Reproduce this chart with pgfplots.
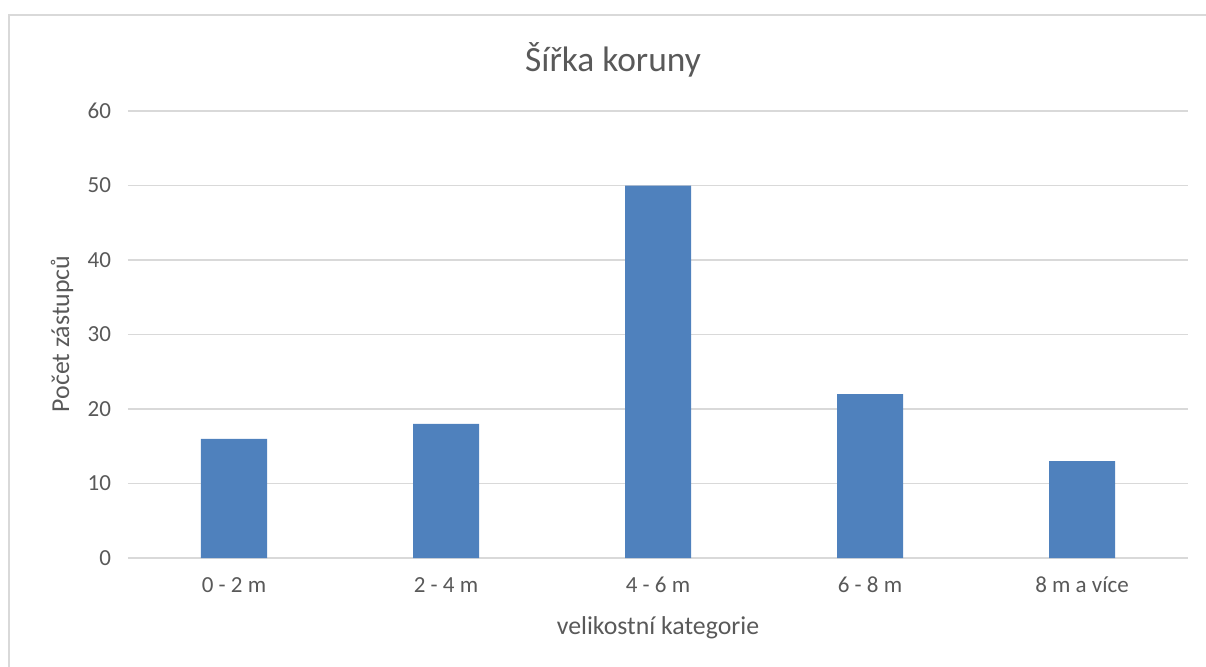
\documentclass[border=0pt]{standalone}
\usepackage{pgfplots}
\pgfplotsset{compat=1.18}
\usepackage{fontspec}
\setmainfont{Carlito}
\definecolor{barblue}{HTML}{4F81BD}
\definecolor{gridgray}{HTML}{D9D9D9}
\definecolor{txtgray}{HTML}{595959}
\begin{document}
\begin{tikzpicture}
\useasboundingbox (0,0) rectangle (603pt,-333pt);
\clip (0,0) rectangle (603pt,-333pt);
\draw[gridgray, line width=1pt] (4.5pt,-7.5pt) rectangle (620pt,-350pt);
\begin{axis}[
  at={(64pt,-279pt)}, anchor=south west,
  scale only axis, width=530pt, height=223.5pt,
  xmin=-0.5, xmax=4.5, ymin=0, ymax=60,
  ytick={0,10,...,60},
  xtick={0,1,2,3,4},
  xticklabels={0 - 2 m, 2 - 4 m, 4 - 6 m, 6 - 8 m, 8 m a více},
  ymajorgrids, grid style={gridgray, line width=0.6pt},
  axis line style={draw=none},
  major tick length=0pt,
  tick label style={font=\fontsize{11.5}{13}\selectfont, text=txtgray},
  /pgf/number format/assume math mode=true,
  yticklabel style={xshift=-5pt},
  xticklabel style={yshift=-6pt},
  clip=false,
]
\draw[gridgray, line width=0.6pt] (axis cs:-0.5,0) -- (axis cs:4.5,0);
\addplot[ybar, bar width=33pt, fill=barblue, draw=none] coordinates {(0,16) (1,18) (2,50) (3,22) (4,13)};
\end{axis}
\node[text=txtgray, font=\fontsize{17.7}{20}\selectfont] at (306.5pt,-30pt) {Šířka koruny};
\node[text=txtgray, font=\fontsize{12.9}{15}\selectfont] at (329pt,-314pt) {velikostní kategorie};
\node[text=txtgray, font=\fontsize{12.9}{15}\selectfont, rotate=90] at (31pt,-167pt) {Počet zástupců};
\end{tikzpicture}
\end{document}
